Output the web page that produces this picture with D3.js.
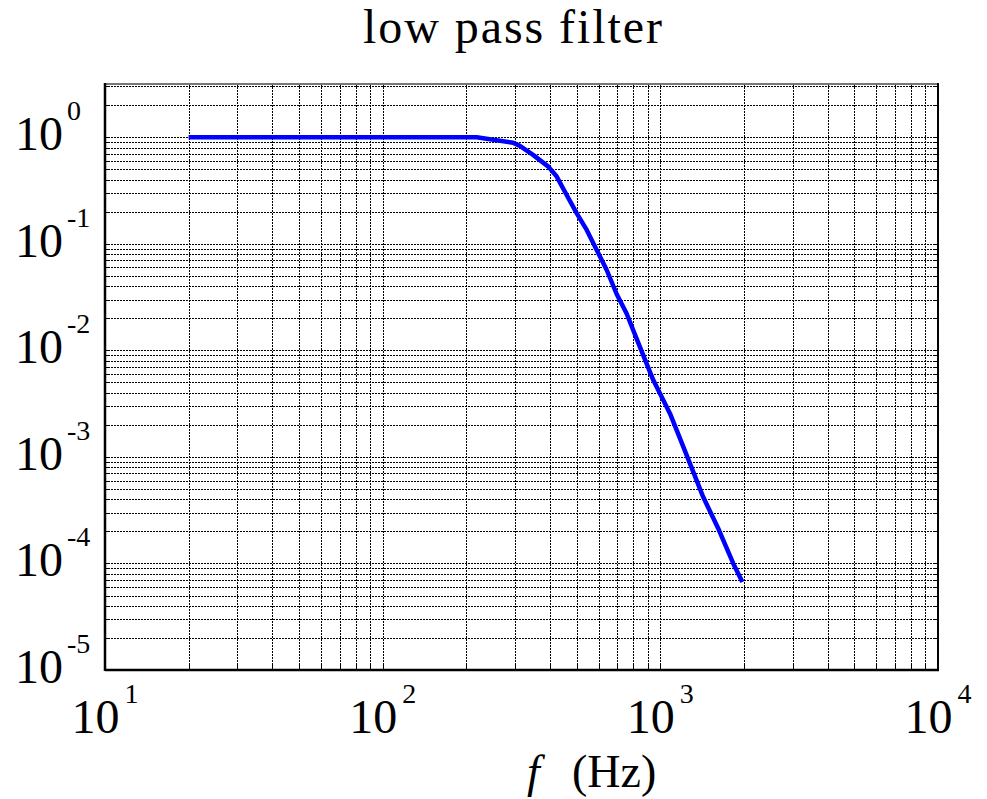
<!DOCTYPE html>
<html>
<head>
<meta charset="utf-8">
<script src="https://cdn.jsdelivr.net/npm/d3@7"></script>
<style>
  html, body { margin: 0; padding: 0; background: #fff; }
  svg { display: block; font-family: "Liberation Serif", "Times New Roman", serif; }
</style>
</head>
<body>
<div id="chart"></div>
<script>
// frequency (Hz) and magnitude
var freq = [20, 100, 218, 295, 312, 349, 395, 423, 460, 500, 543, 590, 641, 696, 756, 844, 943, 1083, 1170, 1278, 1427, 1626, 1830, 1975];
var gain = [1, 1, 1, 0.89, 0.83, 0.68, 0.53, 0.43, 0.287, 0.193, 0.135, 0.0875, 0.0568, 0.0338, 0.0222, 0.0108, 0.00526, 0.00256, 0.00155, 0.00087, 0.00042, 0.000206, 0.0001, 0.000067];

// axis decades (exponents) for the labels
var xExp = [1, 2, 3, 4];
var yExp = [0, -1, -2, -3, -4, -5];

var titleText = "low pass filter";

var width = 987, height = 799;
// plot box (note: "top" is taken by window.top, so use pl/pr/pt/pb)
var pl = 105, pr = 938, pt = 84, pb = 670;

var svg = d3.select("#chart").append("svg")
  .attr("width", width)
  .attr("height", height);

var x = d3.scaleLog().domain([10, 1e4]).range([pl, pr]);
var y = d3.scaleLog().domain([1e-5, Math.sqrt(10)]).range([pb, pt]);

var xt_ = x.ticks();
var yt_ = y.ticks().filter(d => d <= Math.sqrt(10));

// grid - dotted lines on every log tick
var grid = svg.append("g").attr("class", "grid")
  .attr("stroke", "#000")
  .attr("stroke-width", 1)
  .attr("stroke-dasharray", "2,1")
  .attr("shape-rendering", "crispEdges");

grid.selectAll(".vx").data(xt_).enter().append("line")
  .attr("x1", d => Math.round(x(d)) + 0.5).attr("x2", d => Math.round(x(d)) + 0.5)
  .attr("y1", pt).attr("y2", pb);

grid.selectAll(".hy").data(yt_).enter().append("line")
  .attr("x1", pl).attr("x2", pr)
  .attr("y1", d => Math.round(y(d)) + 0.5).attr("y2", d => Math.round(y(d)) + 0.5);

// little inward ticks all round
var ticks = svg.append("g").attr("stroke", "#000").attr("stroke-width", 1).attr("shape-rendering", "crispEdges");
var tl = 5;
xt_.forEach(function (d) {
  var px = Math.round(x(d)) + 0.5;
  ticks.append("line").attr("x1", px).attr("x2", px).attr("y1", pb).attr("y2", pb - tl);
  ticks.append("line").attr("x1", px).attr("x2", px).attr("y1", pt).attr("y2", pt + tl);
});
yt_.forEach(function (d) {
  var py = Math.round(y(d)) + 0.5;
  ticks.append("line").attr("x1", pl).attr("x2", pl + tl).attr("y1", py).attr("y2", py);
  ticks.append("line").attr("x1", pr).attr("x2", pr - tl).attr("y1", py).attr("y2", py);
});

// frame
svg.append("line").attr("x1", pl).attr("x2", pr).attr("y1", pt).attr("y2", pt)
  .attr("stroke", "#777").attr("stroke-width", 2);
svg.append("line").attr("x1", pr).attr("x2", pr).attr("y1", pt - 1).attr("y2", pb)
  .attr("stroke", "#000").attr("stroke-width", 2);
svg.append("line").attr("x1", pl).attr("x2", pl).attr("y1", pt - 1).attr("y2", pb + 1)
  .attr("stroke", "#000").attr("stroke-width", 2.5);
svg.append("line").attr("x1", pl).attr("x2", pr + 1).attr("y1", pb).attr("y2", pb)
  .attr("stroke", "#000").attr("stroke-width", 2.5);

// the curve
var line = d3.line()
  .x((d, i) => x(freq[i]))
  .y(d => y(d));

svg.append("path")
  .datum(gain)
  .attr("d", line)
  .attr("fill", "none")
  .attr("stroke", "#0000ff")
  .attr("stroke-width", 4.5)
  .attr("stroke-linejoin", "round");

// y labels: 10 with exponent, left aligned
var ylab = svg.append("g").attr("fill", "#000");
yExp.forEach(function (e) {
  var base = y(Math.pow(10, e)) + 13;
  var t = ylab.append("text").attr("x", 15).attr("y", base).attr("font-size", 48);
  t.append("tspan").text("10");
  t.append("tspan").attr("font-size", 28).attr("dy", -30).attr("dx", 4).text(e == 0 ? "0" : "-" + Math.abs(e));
});

// x labels: centred under the decade
var xlab = svg.append("g").attr("fill", "#000");
xExp.forEach(function (e) {
  var t = xlab.append("text").attr("x", x(Math.pow(10, e))).attr("y", 733)
    .attr("font-size", 48).attr("text-anchor", "middle");
  t.append("tspan").text("10");
  t.append("tspan").attr("font-size", 28).attr("dy", -30).attr("dx", 5).text(e);
});

// axis title, f in italics
svg.append("text").attr("x", 527).attr("y", 787).attr("font-size", 46)
  .attr("font-style", "italic").text("f");
svg.append("text").attr("x", 572).attr("y", 787).attr("font-size", 46).text("(Hz)");

// title
svg.append("text")
  .attr("x", 363).attr("y", 43)
  .attr("font-size", 48)
  .attr("textLength", 299)
  .attr("lengthAdjust", "spacing")
  .text(titleText);
</script>
</body>
</html>
